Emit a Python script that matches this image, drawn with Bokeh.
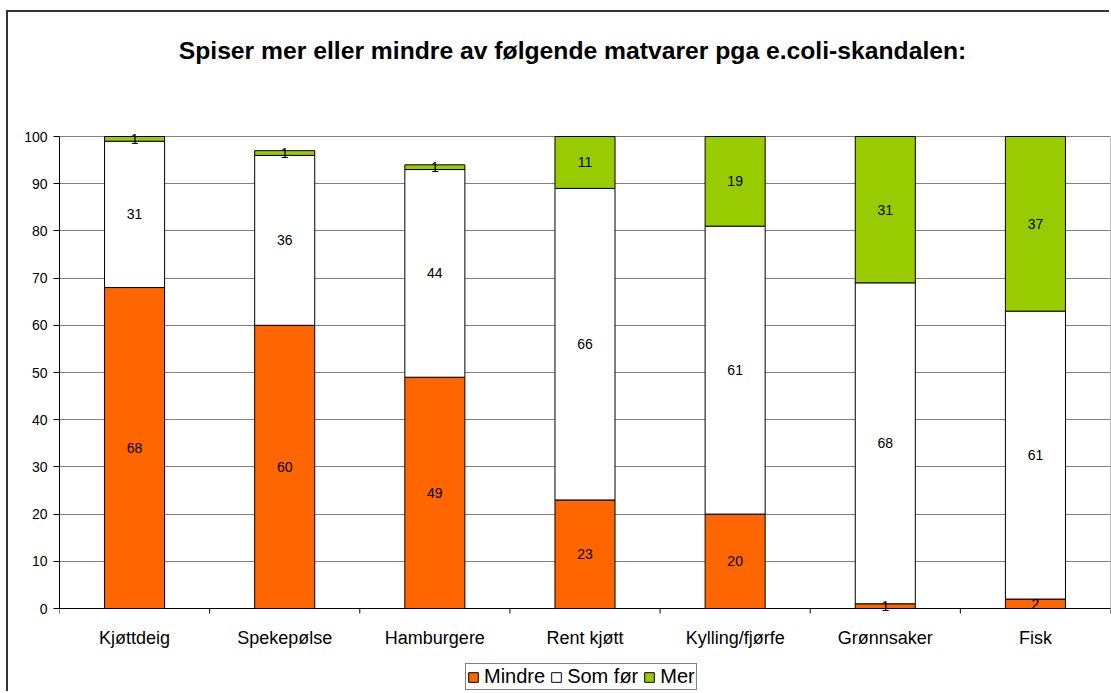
from bokeh.plotting import figure
from bokeh.models import (ColumnDataSource, FixedTicker, Legend, LegendItem, Range1d)
from bokeh.core.properties import value
from bokeh.embed import file_html
from bokeh.resources import INLINE

categories = ["Kjøttdeig", "Spekepølse", "Hamburgere", "Rent kjøtt", "Kylling/fjørfe", "Grønnsaker", "Fisk"]
mindre = [68, 60, 49, 23, 20, 1, 2]
som_for = [31, 36, 44, 66, 61, 68, 61]
mer = [1, 1, 1, 11, 19, 31, 37]
series_names = ["Mindre", "Som før", "Mer"]
colors = ["#FF6600", "#FFFFFF", "#99CC00"]
title_text = "Spiser mer eller mindre av følgende matvarer pga e.coli-skandalen:"
y_ticks = [0, 10, 20, 30, 40, 50, 60, 70, 80, 90, 100]

FONT = "Liberation Sans"

# layout (pixels)
W, H = 1103, 681
LEFT, RIGHT = 51, 1
PLOT_TOP, PLOT_BOTTOM = 124, 596          # y pixel of value 100 and 0 inside canvas
PX_Y = (PLOT_BOTTOM - PLOT_TOP) / 100.0
PX_X = (W - LEFT - RIGHT) / len(categories)
y_max = 100 + PLOT_TOP / PX_Y
y_min = -(H - PLOT_BOTTOM) / PX_Y

ncat = len(categories)
xc = [i + 0.5 for i in range(ncat)]
b0 = [0] * ncat
t0 = mindre
t1 = [a + b for a, b in zip(mindre, som_for)]
t2 = [a + b for a, b in zip(t1, mer)]

src = ColumnDataSource(dict(
    x=xc, b0=b0, t0=t0, t1=t1, t2=t2,
    m0=[(a + b) / 2 for a, b in zip(b0, t0)],
    m1=[(a + b) / 2 for a, b in zip(t0, t1)],
    m2=[(a + b) / 2 for a, b in zip(t1, t2)],
    l0=[str(v) for v in mindre], l1=[str(v) for v in som_for], l2=[str(v) for v in mer],
    cat=categories,
))

p = figure(width=W, height=H, output_backend="svg", toolbar_location=None,
           x_range=Range1d(0, ncat), y_range=Range1d(y_min, y_max),
           x_axis_location=None,
           min_border_left=LEFT, min_border_right=RIGHT, min_border_top=0, min_border_bottom=0)
p.styles = {"position": "relative", "left": "8px", "top": "12px",
            "box-shadow": "-2px -2px 0px 0px #333333"}
p.outline_line_color = None
p.background_fill_color = "white"
p.border_fill_color = "white"

# grid
p.xgrid.grid_line_color = None
p.ygrid.ticker = FixedTicker(ticks=y_ticks)
p.ygrid.grid_line_color = "#808080"
p.ygrid.grid_line_width = 1
p.ygrid.bounds = (0, ncat)

# right edge of plot area
p.segment(x0=[ncat], x1=[ncat], y0=[0], y1=[100], line_color="#808080", line_width=1)

bars = []
for bottom, top, col in [("b0", "t0", colors[0]), ("t0", "t1", colors[1]), ("t1", "t2", colors[2])]:
    r = p.vbar(x="x", bottom=bottom, top=top, width=0.4, source=src, fill_color=col,
               line_color="black", line_width=1)
    bars.append(r)

for m, l in [("m0", "l0"), ("m1", "l1"), ("m2", "l2")]:
    p.text(x="x", y=m, text=l, source=src, text_align="center", text_baseline="middle",
           text_font=value(FONT), text_font_size="14px", text_color="black")

# x axis drawn by hand (category axis with ticks between categories)
bounds_x = list(range(ncat + 1))
p.segment(x0=[0], x1=[ncat], y0=[0], y1=[0], line_color="black", line_width=1)
p.segment(x0=bounds_x, x1=bounds_x, y0=[0] * len(bounds_x), y1=[-5 / PX_Y] * len(bounds_x),
          line_color="black", line_width=1)
p.text(x="x", y=-29 / PX_Y, text="cat", source=src, text_align="center", text_baseline="middle",
       text_font=value(FONT), text_font_size="18px", text_color="black")

# y axis
p.yaxis.ticker = FixedTicker(ticks=y_ticks)
p.yaxis.bounds = (0, 100)
p.yaxis.major_tick_out = 6
p.yaxis.major_tick_in = 0
p.yaxis.minor_tick_line_color = None
p.yaxis.axis_line_color = "black"
p.yaxis.major_tick_line_color = "black"
p.yaxis.major_label_text_font = FONT
p.yaxis.major_label_text_font_size = "14px"
p.yaxis.major_label_text_color = "black"
p.yaxis.major_label_standoff = 6

# title
p.text(x=[(572 - 8 - LEFT) / PX_X], y=[100 + (PLOT_TOP - 38) / PX_Y], text=[title_text],
       text_align="center", text_baseline="middle", text_font=value(FONT),
       text_font_size="24.7px", text_font_style="bold", text_color="black")

legend = Legend(items=[LegendItem(label=n, renderers=[r]) for n, r in zip(series_names, bars)],
                orientation="horizontal", location=(406, 3),
                label_text_font=FONT, label_text_font_size="20px", label_text_color="black",
                label_height=15, glyph_width=12, glyph_height=12, spacing=5, label_standoff=5,
                padding=1, margin=0, border_line_color="black", border_line_width=1,
                background_fill_alpha=1)
p.add_layout(legend, "center")

open("out.html", "w").write(file_html(p, INLINE))
